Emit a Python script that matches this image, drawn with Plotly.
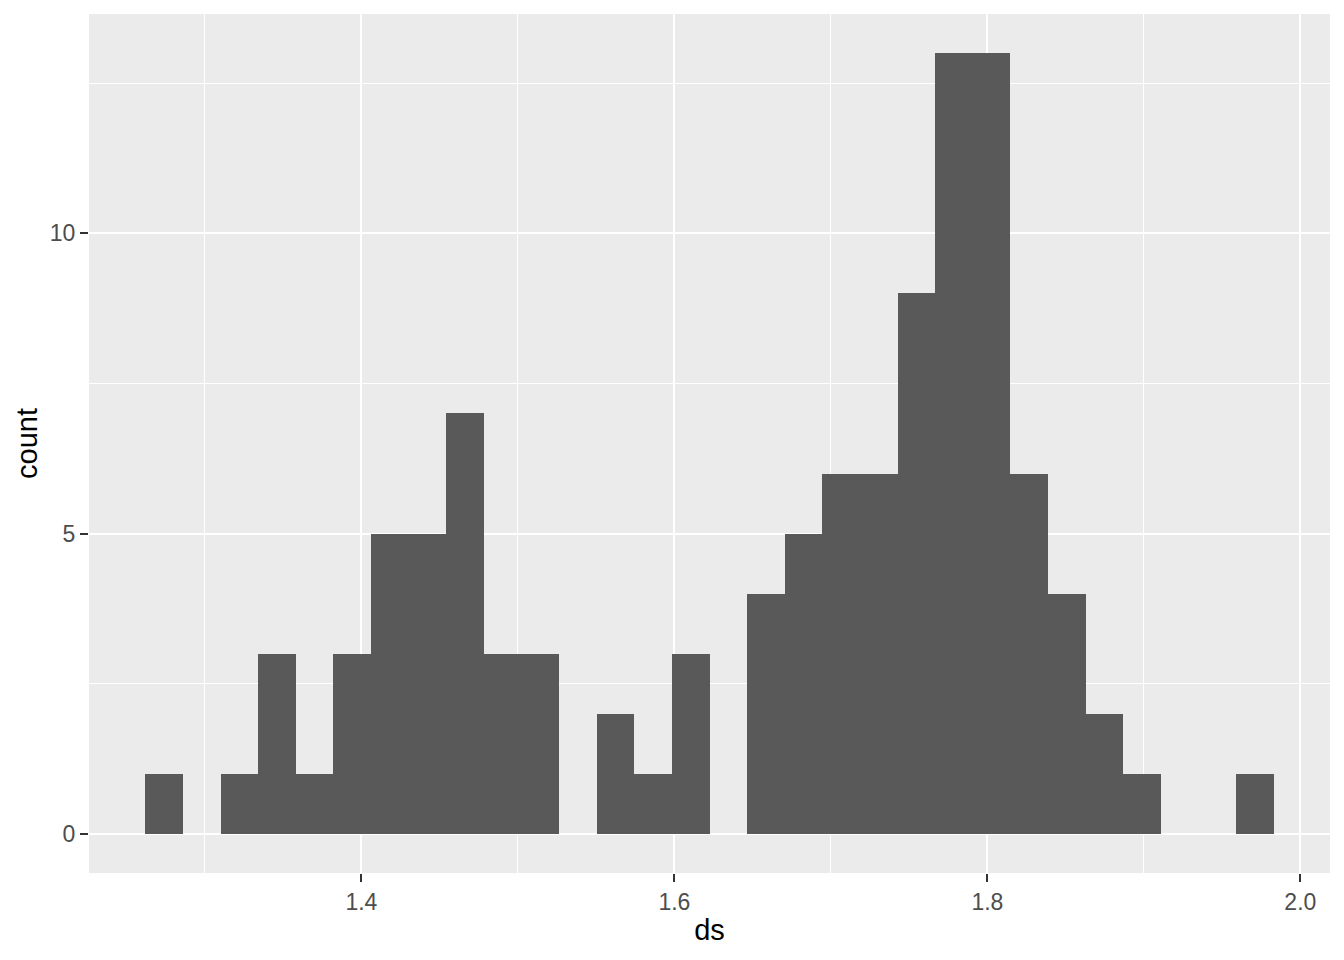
import numpy as np
import plotly.graph_objects as go

bin_start = 1.2620
bin_width = 0.02403
counts = [1, 0, 1, 3, 1, 3, 5, 5, 7, 3, 3, 0, 2, 1, 3, 0, 4, 5, 6, 6, 9, 13, 13, 6, 4, 2, 1, 0, 0, 1]

centers = bin_start + bin_width * (np.arange(len(counts)) + 0.5)

fig = go.Figure()
fig.add_trace(go.Bar(
    x=centers, y=counts, width=bin_width,
    marker=dict(color="#595959", line=dict(width=0)),
    showlegend=False,
))

x_lo = bin_start
x_hi = bin_start + bin_width * len(counts)
pad = (x_hi - x_lo) * 0.05
ymax = max(counts)

font_family = "Liberation Sans, Arial, sans-serif"
fig.update_layout(
    width=1336, height=952,
    margin=dict(l=81, r=14, t=6, b=87),
    paper_bgcolor="white",
    plot_bgcolor="#EBEBEB",
    bargap=0,
    font=dict(family=font_family),
    xaxis=dict(
        range=[x_lo - pad, x_hi + pad],
        tickvals=[1.4, 1.6, 1.8, 2.0],
        ticktext=["1.4", "1.6", "1.8", "2.0"],
        showgrid=True, gridcolor="white", gridwidth=1.8,
        zeroline=False, showline=False,
        ticks="outside", ticklen=8, tickcolor="#333333", tickwidth=2,
        tickfont=dict(size=23, color="#4D4D4D", family=font_family),
        minor=dict(tickvals=[1.3, 1.5, 1.7, 1.9], showgrid=True, gridcolor="white", gridwidth=0.9, ticks=""),
        title=dict(text="ds", font=dict(size=29, color="black", family=font_family), standoff=6),
    ),
    yaxis=dict(
        range=[-ymax * 0.05, ymax * 1.05],
        tickvals=[0, 5, 10],
        showgrid=True, gridcolor="white", gridwidth=1.8,
        zeroline=False, showline=False,
        ticks="outside", ticklen=8, tickcolor="#333333", tickwidth=2,
        tickfont=dict(size=23, color="#4D4D4D", family=font_family),
        minor=dict(tickvals=[2.5, 7.5, 12.5], showgrid=True, gridcolor="white", gridwidth=0.9, ticks=""),
        title=dict(text="count", font=dict(size=29, color="black", family=font_family), standoff=3),
    ),
)

fig.write_html("out.html")
